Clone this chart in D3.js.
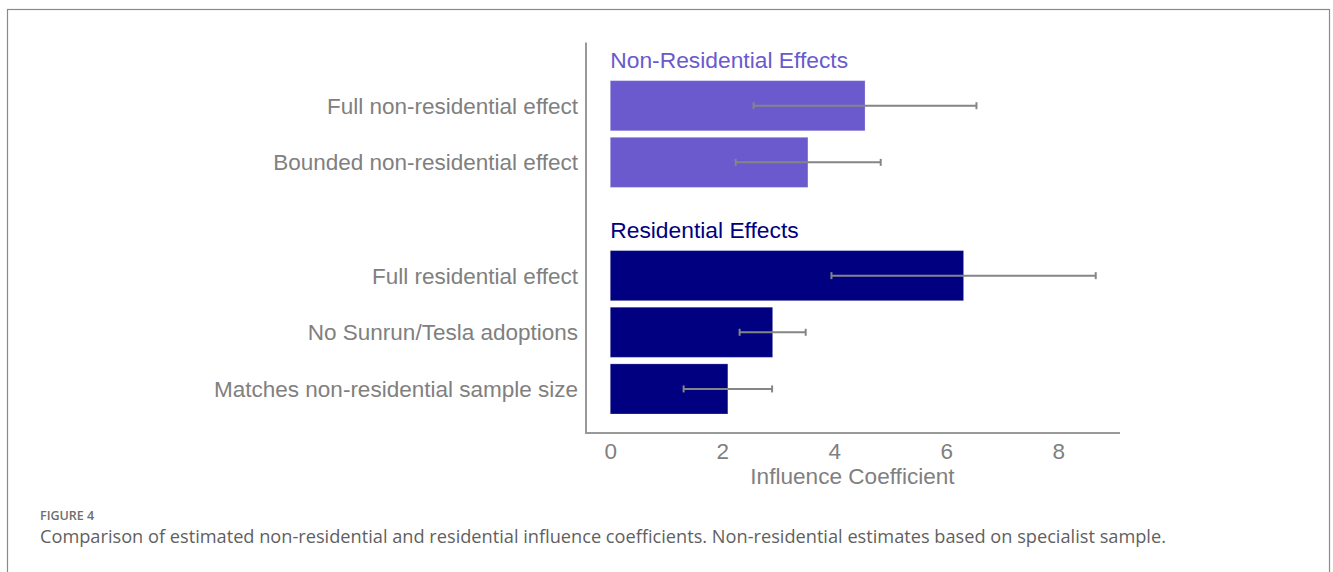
<!DOCTYPE html>
<html><head><meta charset="utf-8">
<script src="https://cdn.jsdelivr.net/npm/d3@7"></script>
<style>html,body{margin:0;padding:0;background:#fff;}svg{display:block;}</style>
</head><body>
<script>
// ---- data ----
const groups = ["Non-Residential Effects", "Residential Effects"];
const groupColors = ["#6a5acd", "#000080"];
const categories = [
  "Full non-residential effect",
  "Bounded non-residential effect",
  "Full residential effect",
  "No Sunrun/Tesla adoptions",
  "Matches non-residential sample size"
];
const categoryGroup = [0, 0, 1, 1, 1];
const values = [4.55, 3.53, 6.31, 2.90, 2.10];
const lowerCI = [2.56, 2.24, 3.95, 2.31, 1.31];
const upperCI = [6.54, 4.83, 8.67, 3.49, 2.89];
const xTicks = [0, 2, 4, 6, 8];
const xTitle = "Influence Coefficient";
const figLabel = "FIGURE 4";
const caption = "Comparison of estimated non-residential and residential influence coefficients. Non-residential estimates based on specialist sample.";

// ---- layout ----
const W = 1333, H = 572;
const svg = d3.select("body").append("svg").attr("width", W).attr("height", H);
const font = "'Liberation Sans', Arial, Helvetica, sans-serif";
const gray = "#808080";

svg.append("rect").attr("x", 7.5).attr("y", 9.5).attr("width", 1322).attr("height", 600)
  .attr("fill", "none").attr("stroke", "#8a8a8a").attr("stroke-width", 1.2);

const rows = [];
groups.forEach((g, gi) => {
  rows.push("§" + g);
  categories.forEach((c, ci) => { if (categoryGroup[ci] === gi) rows.push(c); });
});

const maxV = d3.max(upperCI);
const x = d3.scaleLinear().domain([-0.05 * maxV, 1.05 * maxV]).range([586, 1120]);
const y = d3.scaleBand().domain(rows).range([24, 414]).paddingInner(0.115).paddingOuter(0);

// axes lines
svg.append("line").attr("x1", x.range()[0]).attr("x2", x.range()[0])
  .attr("y1", 42.5).attr("y2", 433).attr("stroke", "#999").attr("stroke-width", 2);
const xAxis = svg.append("g").attr("transform", "translate(0,433)")
  .call(d3.axisBottom(x).tickValues(xTicks).tickSize(0).tickPadding(10).tickFormat(d3.format("d")));
xAxis.select(".domain").attr("stroke", "#999").attr("stroke-width", 2)
  .attr("d", `M${x.range()[0] - 1},0H${x.range()[1]}`);
xAxis.selectAll("text").attr("font-family", font).attr("font-size", 22.5).attr("fill", gray);

svg.append("text").attr("x", (x.range()[0] + x.range()[1]) / 2 - 0.5).attr("y", 484)
  .attr("text-anchor", "middle").attr("font-family", font).attr("font-size", 22.6)
  .attr("fill", gray).text(xTitle);

// group headers
groups.forEach((g, gi) => {
  svg.append("text").attr("x", x(0)).attr("y", y("§" + g) + y.bandwidth() - 6)
    .attr("font-family", font).attr("font-size", 22.8).attr("fill", groupColors[gi]).text(g);
});

// category labels
svg.selectAll("text.cat").data(categories).join("text").attr("class", "cat")
  .attr("x", 578).attr("y", d => y(d) + y.bandwidth() / 2 + 8)
  .attr("text-anchor", "end").attr("font-family", font).attr("font-size", 22.5)
  .attr("fill", gray).text(d => d);

// bars
svg.selectAll("rect.bar").data(categories).join("rect").attr("class", "bar")
  .attr("x", x(0)).attr("y", (d) => y(d))
  .attr("width", (d, i) => x(values[i]) - x(0)).attr("height", y.bandwidth())
  .attr("fill", (d, i) => groupColors[categoryGroup[i]])
  .attr("stroke", "#ffffff").attr("stroke-opacity", 0.25).attr("stroke-width", 1);

// error bars
const eb = svg.selectAll("g.err").data(categories).join("g").attr("class", "err")
  .attr("stroke", "#858585").attr("stroke-width", 2);
eb.append("line").attr("x1", (d, i) => x(lowerCI[i])).attr("x2", (d, i) => x(upperCI[i]))
  .attr("y1", d => y(d) + y.bandwidth() / 2).attr("y2", d => y(d) + y.bandwidth() / 2);
eb.append("line").attr("x1", (d, i) => x(lowerCI[i])).attr("x2", (d, i) => x(lowerCI[i]))
  .attr("y1", d => y(d) + y.bandwidth() / 2 - 3.5).attr("y2", d => y(d) + y.bandwidth() / 2 + 3.5);
eb.append("line").attr("x1", (d, i) => x(upperCI[i])).attr("x2", (d, i) => x(upperCI[i]))
  .attr("y1", d => y(d) + y.bandwidth() / 2 - 3.5).attr("y2", d => y(d) + y.bandwidth() / 2 + 3.5);

// caption
svg.append("text").attr("x", 40).attr("y", 520).attr("font-family", "'Open Sans', sans-serif")
  .attr("font-size", 12.5).attr("font-weight", 600).attr("fill", "#6e6e6e").text(figLabel);
svg.append("text").attr("x", 40).attr("y", 543).attr("font-family", "'Open Sans', sans-serif")
  .attr("font-size", 18.2).attr("fill", "#5f5f5f").text(caption);
</script>
</body></html>
